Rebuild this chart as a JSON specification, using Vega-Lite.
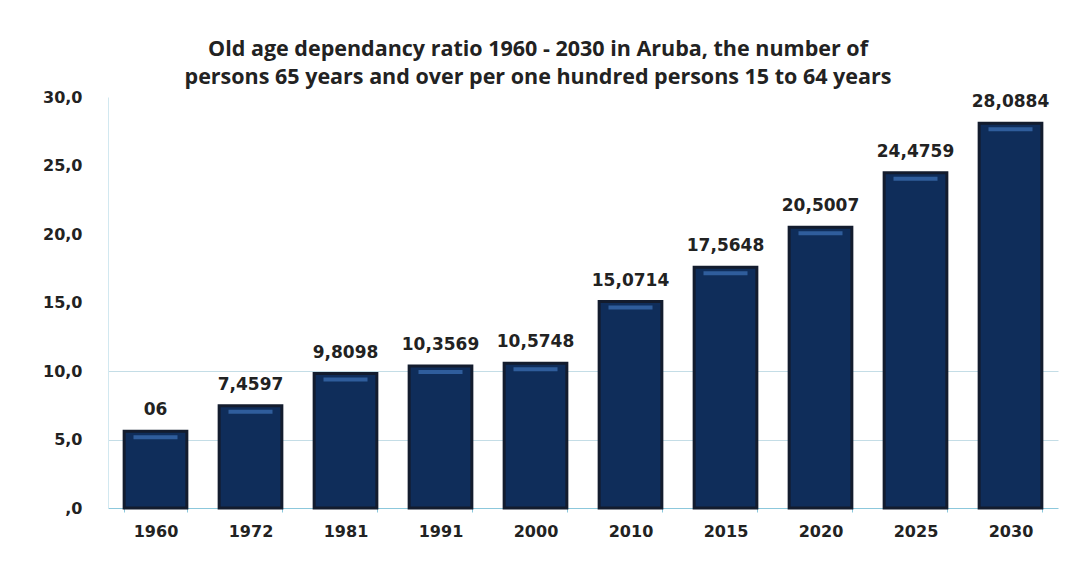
{
  "$schema": "https://vega.github.io/schema/vega-lite/v6.json",
  "autosize": "none",
  "width": 950,
  "height": 411,
  "padding": {"left": 108, "top": 97, "right": 7, "bottom": 55},
  "background": "white",
  "config": {"view": {"stroke": null}},
  "title": {
    "text": ["Old age  dependancy ratio 1960 - 2030  in Aruba, the number of", "persons 65 years and over per one hundred persons 15 to 64 years"],
    "anchor": "middle",
    "font": "Open Sans",
    "fontSize": 21.5,
    "fontWeight": "bold",
    "color": "#222222",
    "lineHeight": 28,
    "offset": 1,
    "dx": -45
  },
  "data": {
    "values": [
      {"year": "1960", "ratio": 5.6, "label": "06"},
      {"year": "1972", "ratio": 7.4597, "label": "7,4597"},
      {"year": "1981", "ratio": 9.8098, "label": "9,8098"},
      {"year": "1991", "ratio": 10.3569, "label": "10,3569"},
      {"year": "2000", "ratio": 10.5748, "label": "10,5748"},
      {"year": "2010", "ratio": 15.0714, "label": "15,0714"},
      {"year": "2015", "ratio": 17.5648, "label": "17,5648"},
      {"year": "2020", "ratio": 20.5007, "label": "20,5007"},
      {"year": "2025", "ratio": 24.4759, "label": "24,4759"},
      {"year": "2030", "ratio": 28.0884, "label": "28,0884"}
    ]
  },
  "encoding": {
    "x": {
      "field": "year", "type": "ordinal", "sort": null,
      "scale": {"paddingInner": 0.34, "paddingOuter": 0.17},
      "axis": {
        "title": null, "labelAngle": 0, "labelFont": "DejaVu Sans", "labelFontSize": 16,
        "labelFontWeight": "bold", "labelColor": "#222222", "labelPadding": 11,
        "domainColor": "#8cc8dc", "tickColor": "#8cc8dc", "tickSize": 4, "tickBand": "extent"
      }
    },
    "y": {
      "field": "ratio", "type": "quantitative",
      "scale": {"domain": [0, 30], "nice": false},
      "axis": {
        "title": null, "values": [0, 5, 10, 15, 20, 25, 30],
        "labelExpr": "datum.value == 0 ? ',0' : replace(format(datum.value, '.1f'), '.', ',')",
        "labelFont": "DejaVu Sans", "labelFontSize": 16, "labelFontWeight": "bold",
        "labelColor": "#222222", "labelPadding": 26, "ticks": false,
        "domainColor": "#d2e8f0", "grid": true,
        "gridColor": {"condition": {"test": "datum.value == 5 || datum.value == 10", "value": "#c4dde6"}, "value": "rgba(0,0,0,0)"},
        "gridWidth": 1
      }
    }
  },
  "layer": [
    {
      "mark": {"type": "bar", "color": "#0f2d5a", "stroke": "#131c2e", "strokeWidth": 3}
    },
    {
      "mark": {"type": "tick", "color": "#3d72b8", "thickness": 4, "size": 44, "yOffset": 6, "orient": "horizontal"}
    },
    {
      "mark": {"type": "text", "dy": -12, "font": "DejaVu Sans", "fontSize": 17, "fontWeight": "bold", "color": "#222222", "baseline": "bottom"},
      "encoding": {"text": {"field": "label"}}
    }
  ]
}
